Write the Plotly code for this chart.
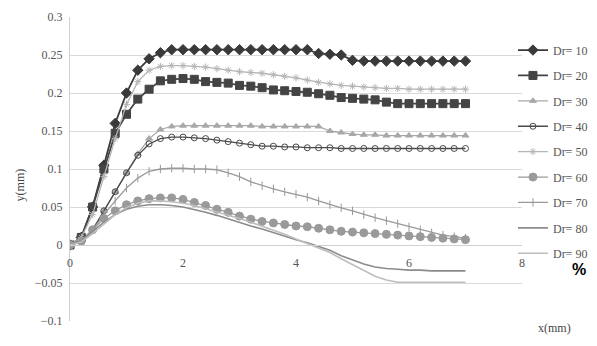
import plotly.graph_objects as go

x_vals = [round(0.2 * i, 1) for i in range(36)]

dr10 = [0, 0.01, 0.05, 0.105, 0.16, 0.2, 0.23, 0.245, 0.253, 0.257, 0.257, 0.257, 0.257, 0.257,
        0.257, 0.257, 0.257, 0.257, 0.257, 0.257, 0.257, 0.257, 0.252, 0.251, 0.25, 0.243,
        0.242, 0.242, 0.242, 0.242, 0.242, 0.242, 0.242, 0.242, 0.242, 0.242]
dr20 = [0, 0.01, 0.05, 0.1, 0.147, 0.172, 0.192, 0.205, 0.216, 0.218, 0.219, 0.218, 0.215, 0.214,
        0.213, 0.21, 0.209, 0.207, 0.204, 0.203, 0.202, 0.201, 0.199, 0.197, 0.194, 0.193,
        0.192, 0.191, 0.188, 0.186, 0.186, 0.186, 0.186, 0.186, 0.186, 0.186]
dr30 = [0, 0.005, 0.02, 0.045, 0.07, 0.095, 0.12, 0.14, 0.152, 0.156, 0.157, 0.157, 0.157, 0.157,
        0.157, 0.157, 0.157, 0.156, 0.156, 0.156, 0.156, 0.156, 0.156, 0.15, 0.148, 0.146,
        0.145, 0.145, 0.144, 0.144, 0.144, 0.144, 0.144, 0.144, 0.144, 0.144]
dr40 = [0, 0.005, 0.02, 0.045, 0.07, 0.095, 0.118, 0.133, 0.14, 0.142, 0.142, 0.141, 0.14, 0.138,
        0.136, 0.134, 0.132, 0.13, 0.13, 0.129, 0.129, 0.128, 0.128, 0.128, 0.127, 0.127,
        0.127, 0.127, 0.127, 0.127, 0.127, 0.127, 0.127, 0.127, 0.127, 0.127]
dr50 = [0, 0.01, 0.04, 0.09, 0.14, 0.185, 0.215, 0.23, 0.235, 0.236, 0.236, 0.235, 0.234, 0.232,
        0.23, 0.228, 0.227, 0.226, 0.224, 0.222, 0.22, 0.217, 0.214, 0.212, 0.21, 0.209,
        0.208, 0.207, 0.206, 0.206, 0.205, 0.205, 0.205, 0.205, 0.205, 0.205]
dr60 = [0, 0.005, 0.02, 0.035, 0.045, 0.053, 0.058, 0.061, 0.062, 0.062, 0.06, 0.056, 0.052, 0.047,
        0.043, 0.038, 0.034, 0.031, 0.029, 0.027, 0.025, 0.024, 0.022, 0.02, 0.018, 0.017,
        0.016, 0.015, 0.014, 0.013, 0.012, 0.011, 0.01, 0.009, 0.008, 0.007]
dr70 = [0, 0.005, 0.02, 0.04, 0.058, 0.075, 0.088, 0.097, 0.1, 0.101, 0.101, 0.1, 0.1, 0.099,
        0.095, 0.09, 0.083, 0.078, 0.074, 0.07, 0.067, 0.063, 0.058, 0.053, 0.049, 0.045,
        0.04, 0.036, 0.032, 0.028, 0.024, 0.02, 0.016, 0.013, 0.011, 0.009]
dr80 = [0, 0.005, 0.018, 0.03, 0.04, 0.047, 0.051, 0.053, 0.053, 0.052, 0.05, 0.047, 0.043, 0.039,
        0.034, 0.03, 0.025, 0.021, 0.016, 0.012, 0.007, 0.003, -0.002, -0.007, -0.014, -0.02,
        -0.025, -0.029, -0.031, -0.032, -0.033, -0.033, -0.034, -0.034, -0.034, -0.034]
dr90 = [0, 0.004, 0.015, 0.028, 0.04, 0.049, 0.055, 0.058, 0.058, 0.057, 0.055, 0.052, 0.048, 0.044,
        0.04, 0.035, 0.03, 0.025, 0.02, 0.014, 0.008, 0.002, -0.004, -0.01, -0.018, -0.026,
        -0.034, -0.041, -0.046, -0.049, -0.049, -0.049, -0.049, -0.049, -0.049, -0.049]

names = ["Dr= 10", "Dr= 20", "Dr= 30", "Dr= 40", "Dr= 50", "Dr= 60", "Dr= 70", "Dr= 80", "Dr= 90"]
series = [dr10, dr20, dr30, dr40, dr50, dr60, dr70, dr80, dr90]

styles = [
    dict(color="#3a3a3a", width=1.8, symbol="diamond", size=8, mode="lines+markers"),
    dict(color="#444444", width=1.8, symbol="square", size=8, mode="lines+markers"),
    dict(color="#a8a8a8", width=1.3, symbol="triangle-up", size=6, mode="lines+markers"),
    dict(color="#4a4a4a", width=1.3, symbol="circle-open", size=6, mode="lines+markers"),
    dict(color="#b5b5b5", width=1.3, symbol="asterisk-open", size=6, mode="lines+markers"),
    dict(color="#9a9a9a", width=1.3, symbol="circle", size=8, mode="lines+markers"),
    dict(color="#999999", width=1.3, symbol="line-ns-open", size=6, mode="lines+markers"),
    dict(color="#8c8c8c", width=1.6, symbol="circle", size=1, mode="lines"),
    dict(color="#bdbdbd", width=1.6, symbol="circle", size=1, mode="lines"),
]

fig = go.Figure()
for i, (nm, ys, st) in enumerate(zip(names, series, styles)):
    fig.add_trace(go.Scatter(
        x=x_vals, y=ys, name=nm, mode=st["mode"], legendgroup=f"g{i}",
        line=dict(color=st["color"], width=st["width"]),
        marker=dict(symbol=st["symbol"], size=st["size"], color=st["color"],
                    line=dict(color=st["color"], width=1)),
    ))

serif = "Liberation Serif, Times New Roman, DejaVu Serif, serif"

fig.update_layout(
    width=597, height=346,
    margin=dict(l=70, r=75, t=17, b=25, autoexpand=False),
    paper_bgcolor="white", plot_bgcolor="white",
    font=dict(family=serif, size=11, color="#555555"),
    showlegend=True,
    legend=dict(x=0.98, xanchor="left", y=0.939, yanchor="top",
                font=dict(family=serif, size=12, color="#555555"),
                tracegroupgap=6.4, itemwidth=30,
                bgcolor="rgba(0,0,0,0)"),
    xaxis=dict(range=[0, 8], dtick=2, tick0=0, showgrid=False, zeroline=False,
               showline=True, linecolor="#d0d0d0", linewidth=1,
               anchor="free", position=0.25, ticks="", ticklabelstandoff=7,
               tickfont=dict(family=serif, size=12, color="#555555")),
    yaxis=dict(range=[-0.1, 0.3], dtick=0.05, tick0=0, showgrid=True,
               gridcolor="#d9d9d9", gridwidth=1, zeroline=False,
               showline=True, linecolor="#d0d0d0", linewidth=1, ticks="",
               ticklabelstandoff=4,
               tickfont=dict(family=serif, size=12, color="#555555")),
)

fig.add_annotation(text="y(mm)", xref="paper", yref="paper", x=-0.11, y=0.447,
                   xanchor="center", yanchor="middle", showarrow=False, textangle=-90,
                   font=dict(family=serif, size=12, color="#444444"))
fig.add_annotation(text="x(mm)", xref="paper", yref="paper", x=1.073, y=-0.023,
                   xanchor="center", yanchor="middle", showarrow=False,
                   font=dict(family=serif, size=12, color="#444444"))
fig.add_annotation(text="<b>%</b>", xref="paper", yref="paper", x=1.127, y=0.168,
                   xanchor="center", yanchor="middle", showarrow=False,
                   font=dict(family="Liberation Sans, Arial, sans-serif", size=16, color="#000000"))

fig.write_html("out.html", config={"displayModeBar": False},
               post_script="document.body.style.margin='0';")
